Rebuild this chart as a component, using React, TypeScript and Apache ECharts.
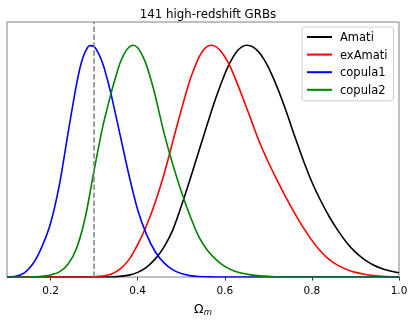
import React, { useEffect, useRef } from "react";
import * as echarts from "echarts";

// [Omega_m, normalised likelihood]
const amati: [number, number][] = [
  [0.10, 0], [0.34, 0], [0.36, 0.003], [0.38, 0.008], [0.40, 0.02],
  [0.42, 0.042], [0.44, 0.077], [0.46, 0.128], [0.48, 0.2], [0.50, 0.305],
  [0.52, 0.42], [0.54, 0.54], [0.56, 0.66], [0.58, 0.775], [0.60, 0.876],
  [0.61, 0.917], [0.62, 0.952], [0.63, 0.978], [0.64, 0.994], [0.65, 1.0],
  [0.66, 0.996], [0.67, 0.985], [0.68, 0.966], [0.69, 0.939], [0.70, 0.905],
  [0.72, 0.82], [0.74, 0.72], [0.76, 0.61], [0.78, 0.505], [0.80, 0.41],
  [0.82, 0.33], [0.84, 0.26], [0.86, 0.2], [0.88, 0.148], [0.90, 0.107],
  [0.92, 0.076], [0.94, 0.053], [0.96, 0.037], [0.98, 0.026], [1.00, 0.018],
];

const exAmati: [number, number][] = [
  [0.10, 0], [0.28, 0], [0.30, 0.001], [0.32, 0.004], [0.34, 0.013],
  [0.36, 0.035], [0.38, 0.075], [0.40, 0.14], [0.42, 0.22], [0.44, 0.32],
  [0.46, 0.44], [0.48, 0.58], [0.50, 0.72], [0.52, 0.85], [0.53, 0.9],
  [0.54, 0.945], [0.55, 0.977], [0.56, 0.995], [0.57, 1.0], [0.58, 0.993],
  [0.59, 0.976], [0.60, 0.95], [0.61, 0.917], [0.62, 0.875], [0.64, 0.78],
  [0.66, 0.68], [0.68, 0.58], [0.70, 0.495], [0.72, 0.418], [0.74, 0.345],
  [0.76, 0.277], [0.78, 0.214], [0.80, 0.158], [0.82, 0.111], [0.84, 0.075],
  [0.86, 0.05], [0.88, 0.032], [0.90, 0.02], [0.92, 0.012], [0.94, 0.006],
  [0.96, 0.003], [0.98, 0.001], [1.00, 0],
];

const copula1: [number, number][] = [
  [0.10, 0], [0.12, 0.003], [0.14, 0.018], [0.16, 0.058], [0.18, 0.13],
  [0.20, 0.232], [0.22, 0.395], [0.24, 0.62], [0.25, 0.73], [0.26, 0.835],
  [0.27, 0.92], [0.28, 0.973], [0.29, 0.998], [0.30, 0.994], [0.31, 0.965],
  [0.32, 0.92], [0.33, 0.855], [0.34, 0.78], [0.36, 0.61], [0.38, 0.44],
  [0.40, 0.29], [0.42, 0.185], [0.44, 0.11], [0.46, 0.062], [0.48, 0.032],
  [0.50, 0.015], [0.52, 0.006], [0.54, 0.002], [0.56, 0.001], [0.58, 0],
  [1.00, 0],
];

const copula2: [number, number][] = [
  [0.10, 0], [0.14, 0], [0.16, 0.001], [0.18, 0.003], [0.20, 0.009],
  [0.22, 0.022], [0.24, 0.055], [0.26, 0.125], [0.28, 0.26], [0.30, 0.46],
  [0.32, 0.65], [0.34, 0.8], [0.35, 0.866], [0.36, 0.925], [0.37, 0.966],
  [0.38, 0.991], [0.39, 1.0], [0.40, 0.989], [0.41, 0.959], [0.42, 0.915],
  [0.43, 0.854], [0.44, 0.785], [0.46, 0.625], [0.48, 0.49], [0.50, 0.37],
  [0.52, 0.265], [0.54, 0.175], [0.56, 0.115], [0.58, 0.075], [0.60, 0.046],
  [0.62, 0.027], [0.64, 0.016], [0.66, 0.009], [0.68, 0.005], [0.70, 0.003],
  [0.72, 0.001], [0.74, 0], [1.00, 0],
];

const seriesNames = ["Amati", "exAmati", "copula1", "copula2"];
const seriesColors = ["#000000", "#ff0000", "#0000ff", "#008000"];
const seriesValues = [amati, exAmati, copula1, copula2];

const xTicks = [0.2, 0.4, 0.6, 0.8, 1.0];
const xMin = 0.1;
const xMax = 1.0;
const yMax = 1.1;
const refOmega = 0.3;
const titleText = "141 high-redshift GRBs";

const FONT = "DejaVu Sans";

export default function App() {
  const ref = useRef<HTMLDivElement>(null);

  useEffect(() => {
    const chart = echarts.init(ref.current!, null, { renderer: "svg" });

    const series: any[] = seriesNames.map((name, k) => ({
      name,
      type: "line",
      data: seriesValues[k],
      smooth: 0.3,
      symbol: "none",
      showSymbol: false,
      silent: true,
      lineStyle: { color: seriesColors[k], width: 1.6 },
      itemStyle: { color: seriesColors[k] },
    }));

    series[3].markLine = {
      silent: true,
      symbol: "none",
      label: { show: false },
      lineStyle: { color: "#808080", width: 1.5, type: [5.5, 2.4] },
      data: [{ xAxis: refOmega }],
    };

    chart.setOption({
      animation: false,
      textStyle: { fontFamily: FONT },
      title: {
        text: titleText,
        left: 203,
        textAlign: "center",
        top: 3,
        textStyle: {
          fontFamily: FONT,
          fontSize: 11.8,
          fontWeight: "normal",
          color: "#000",
        },
      },
      legend: {
        data: seriesNames,
        orient: "vertical",
        left: 302,
        top: 27,
        icon: "rect",
        itemWidth: 25,
        itemHeight: 2,
        itemGap: 3.6,
        padding: [3, 6, 4, 5],
        backgroundColor: "rgba(255,255,255,0.8)",
        borderColor: "#cccccc",
        borderWidth: 1,
        borderRadius: 3,
        textStyle: {
          fontFamily: FONT,
          fontSize: 11.5,
          lineHeight: 14,
          color: "#000",
          padding: [0, 0, 0, 3],
        },
      },
      grid: {
        left: 7,
        right: 16,
        top: 22,
        bottom: 46,
        show: true,
        borderColor: "#808080",
        borderWidth: 1,
      },
      xAxis: {
        type: "value",
        min: xMin,
        max: xMax,
        name: "{o|Ω}{m|m}",
        nameLocation: "middle",
        nameGap: 24,
        nameTextStyle: {
          rich: {
            o: { fontFamily: FONT, fontSize: 12.5, color: "#000", lineHeight: 14 },
            m: {
              fontFamily: FONT,
              fontSize: 8.5,
              fontStyle: "italic",
              color: "#000",
              lineHeight: 9,
              padding: [7, 0, 0, 0],
            },
          },
        },
        axisLine: { show: false },
        splitLine: { show: false },
        axisTick: {
          show: true,
          length: 3.5,
          customValues: xTicks,
          lineStyle: { color: "#333", width: 1 },
        },
        axisLabel: {
          customValues: xTicks,
          margin: 7,
          fontFamily: FONT,
          fontSize: 10.5,
          color: "#000",
          formatter: (v: number) => v.toFixed(1),
        },
      },
      yAxis: {
        type: "value",
        min: 0,
        max: yMax,
        axisLine: { show: false },
        axisTick: { show: false },
        axisLabel: { show: false },
        splitLine: { show: false },
      },
      series,
    });

    return () => chart.dispose();
  }, []);

  return (
    <div
      ref={ref}
      style={{ position: "fixed", left: 0, top: 0, width: 415, height: 323 }}
    />
  );
}
